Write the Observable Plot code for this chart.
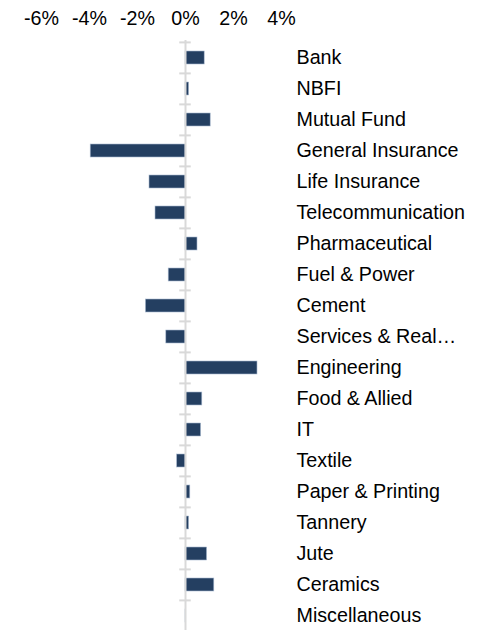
<!DOCTYPE html>
<html>
<head>
<meta charset="utf-8">
<script src="https://cdn.jsdelivr.net/npm/d3@7"></script>
<script src="https://cdn.jsdelivr.net/npm/@observablehq/plot@0.6"></script>
<style>
  html, body { margin: 0; padding: 0; background: #fff; overflow: hidden; }
  #chart svg { display: block; }
</style>
</head>
<body>
<div id="chart"></div>
<script>
const sectors = [
  "Bank", "NBFI", "Mutual Fund", "General Insurance", "Life Insurance",
  "Telecommunication", "Pharmaceutical", "Fuel & Power", "Cement",
  "Services & Real…", "Engineering", "Food & Allied", "IT", "Textile",
  "Paper & Printing", "Tannery", "Jute", "Ceramics", "Miscellaneous"
];
const changes = [
  0.8, 0.15, 1.05, -3.95, -1.5,
  -1.25, 0.5, -0.7, -1.65,
  -0.8, 3.0, 0.7, 0.65, -0.35,
  0.2, 0.15, 0.9, 1.2, 0.03
];
const xTicks = [-6, -4, -2, 0, 2, 4];

const data = sectors.map((s, i) => ({sector: s, value: changes[i]}));

const chart = Plot.plot({
  width: 489,
  height: 633,
  marginTop: 40,
  marginBottom: 0,
  marginLeft: 41,
  marginRight: 208,
  style: {fontFamily: "'Liberation Sans', Arial, sans-serif", fontSize: "19.7px", color: "#000", background: "#fff"},
  x: {domain: [-6, 4], axis: null},
  y: {domain: sectors, axis: null, paddingInner: 0.58, paddingOuter: 0.29},
  marks: [
    Plot.axisX(xTicks, {anchor: "top", tickSize: 0, tickPadding: 16, tickFormat: d => d + "%", fontSize: 19.7, fill: "#000", label: null}),
    Plot.barX(data, {x: "value", y: "sector", fill: "#243f61", stroke: "#a9bad0", strokeWidth: 0.6}),
    Plot.ruleX([0], {stroke: "#d9d9d9", strokeWidth: 2}),
    Plot.ruleY(sectors, {y: d => d, x1: -0.24, x2: 0.24, dy: -15.6, stroke: "#d9d9d9", strokeWidth: 2}),
    Plot.text(sectors, {y: d => d, text: d => d, frameAnchor: "right", dx: 15, textAnchor: "start", fill: "#000", fontSize: 19.7})
  ]
});
document.getElementById("chart").appendChild(chart);
</script>
</body>
</html>
